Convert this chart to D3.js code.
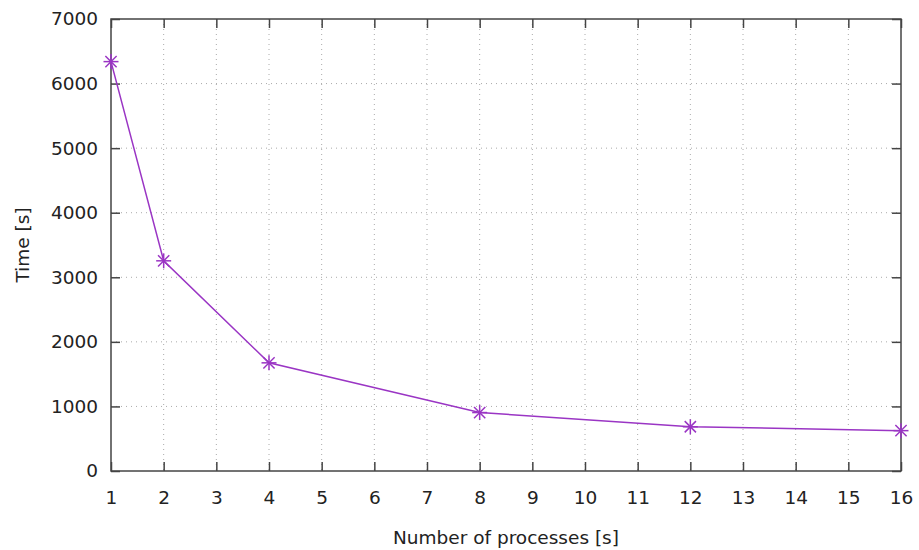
<!DOCTYPE html>
<html>
<head>
<meta charset="utf-8">
<script src="https://cdn.jsdelivr.net/npm/d3@7"></script>
<style>
  body { margin: 0; background: #fff; }
  text { font-family: "DejaVu Sans", Verdana, sans-serif; fill: #222; }
</style>
</head>
<body>
<script>
// DATA
var processes = [1, 2, 4, 8, 12, 16];
var times = [6340, 3255, 1675, 905, 685, 625];
var xTicks = [1, 2, 3, 4, 5, 6, 7, 8, 9, 10, 11, 12, 13, 14, 15, 16];
var yTicks = [0, 1000, 2000, 3000, 4000, 5000, 6000, 7000];

var svg = d3.select("body").append("svg")
    .attr("width", 919)
    .attr("height", 550);

const margin = {top: 19, right: 18, bottom: 79, left: 111};
const width = 919 - margin.left - margin.right;
const height = 550 - margin.top - margin.bottom;

const x = d3.scaleLinear().domain([1, 16]).range([0, width]);
const y = d3.scaleLinear().domain([0, 7000]).range([height, 0]);

const g = svg.append("g")
    .attr("transform", "translate(" + margin.left + "," + margin.top + ")");

// dotted grid
g.append("g").selectAll("line").data(xTicks.slice(1, -1))
    .enter().append("line")
    .attr("x1", d => x(d)).attr("x2", d => x(d))
    .attr("y1", 0).attr("y2", height)
    .attr("stroke", "#aaa").attr("stroke-width", 1)
    .attr("stroke-dasharray", "1,4");
g.append("g").selectAll("line").data(yTicks.slice(1, -1))
    .enter().append("line")
    .attr("x1", 0).attr("x2", width)
    .attr("y1", d => y(d)).attr("y2", d => y(d))
    .attr("stroke", "#aaa").attr("stroke-width", 1)
    .attr("stroke-dasharray", "1,4");

// axes, ticks drawn inward on all four sides
function styleAxis(sel) {
    sel.select(".domain").remove();
    sel.selectAll(".tick line").attr("stroke", "#444").attr("stroke-width", 1.5);
    sel.selectAll(".tick text").style("font-size", "18.5px").attr("fill", "#222");
}
g.append("g").attr("transform", "translate(0," + height + ")")
    .call(d3.axisBottom(x).tickValues(xTicks).tickSize(-9).tickPadding(20).tickFormat(d3.format("d")))
    .call(styleAxis);
g.append("g")
    .call(d3.axisLeft(y).tickValues(yTicks).tickSize(-9).tickPadding(13).tickFormat(d3.format("d")))
    .call(styleAxis);
g.append("g")
    .call(d3.axisTop(x).tickValues(xTicks).tickSize(-9).tickFormat(""))
    .call(styleAxis);
g.append("g").attr("transform", "translate(" + width + ",0)")
    .call(d3.axisRight(y).tickValues(yTicks).tickSize(-9).tickFormat(""))
    .call(styleAxis);

g.append("rect")
    .attr("width", width).attr("height", height)
    .attr("fill", "none").attr("stroke", "#444").attr("stroke-width", 1.5);

// line
const pts = processes.map((p, i) => [p, times[i]]);
const color = "#9a35c4";
g.append("path").datum(pts)
    .attr("fill", "none").attr("stroke", color).attr("stroke-width", 1.5)
    .attr("d", d3.line().x(d => x(d[0])).y(d => y(d[1])));

// asterisk markers
const r = 7.5;
const mk = g.append("g").selectAll("g").data(pts).enter().append("g")
    .attr("transform", d => "translate(" + x(d[0]) + "," + y(d[1]) + ")")
    .attr("stroke", color).attr("stroke-width", 1.5);
mk.append("line").attr("x1", -r).attr("x2", r).attr("y1", 0).attr("y2", 0);
mk.append("line").attr("x1", 0).attr("x2", 0).attr("y1", -r).attr("y2", r);
mk.append("line").attr("x1", -r * 0.75).attr("x2", r * 0.75).attr("y1", -r * 0.75).attr("y2", r * 0.75);
mk.append("line").attr("x1", -r * 0.75).attr("x2", r * 0.75).attr("y1", r * 0.75).attr("y2", -r * 0.75);

// axis titles
svg.append("text")
    .attr("x", margin.left + width / 2).attr("y", 544)
    .attr("text-anchor", "middle").style("font-size", "18.5px")
    .text("Number of processes [s]");
svg.append("text")
    .attr("transform", "translate(29," + (margin.top + height / 2) + ") rotate(-90)")
    .attr("text-anchor", "middle").style("font-size", "18.5px")
    .text("Time [s]");
</script>
</body>
</html>
